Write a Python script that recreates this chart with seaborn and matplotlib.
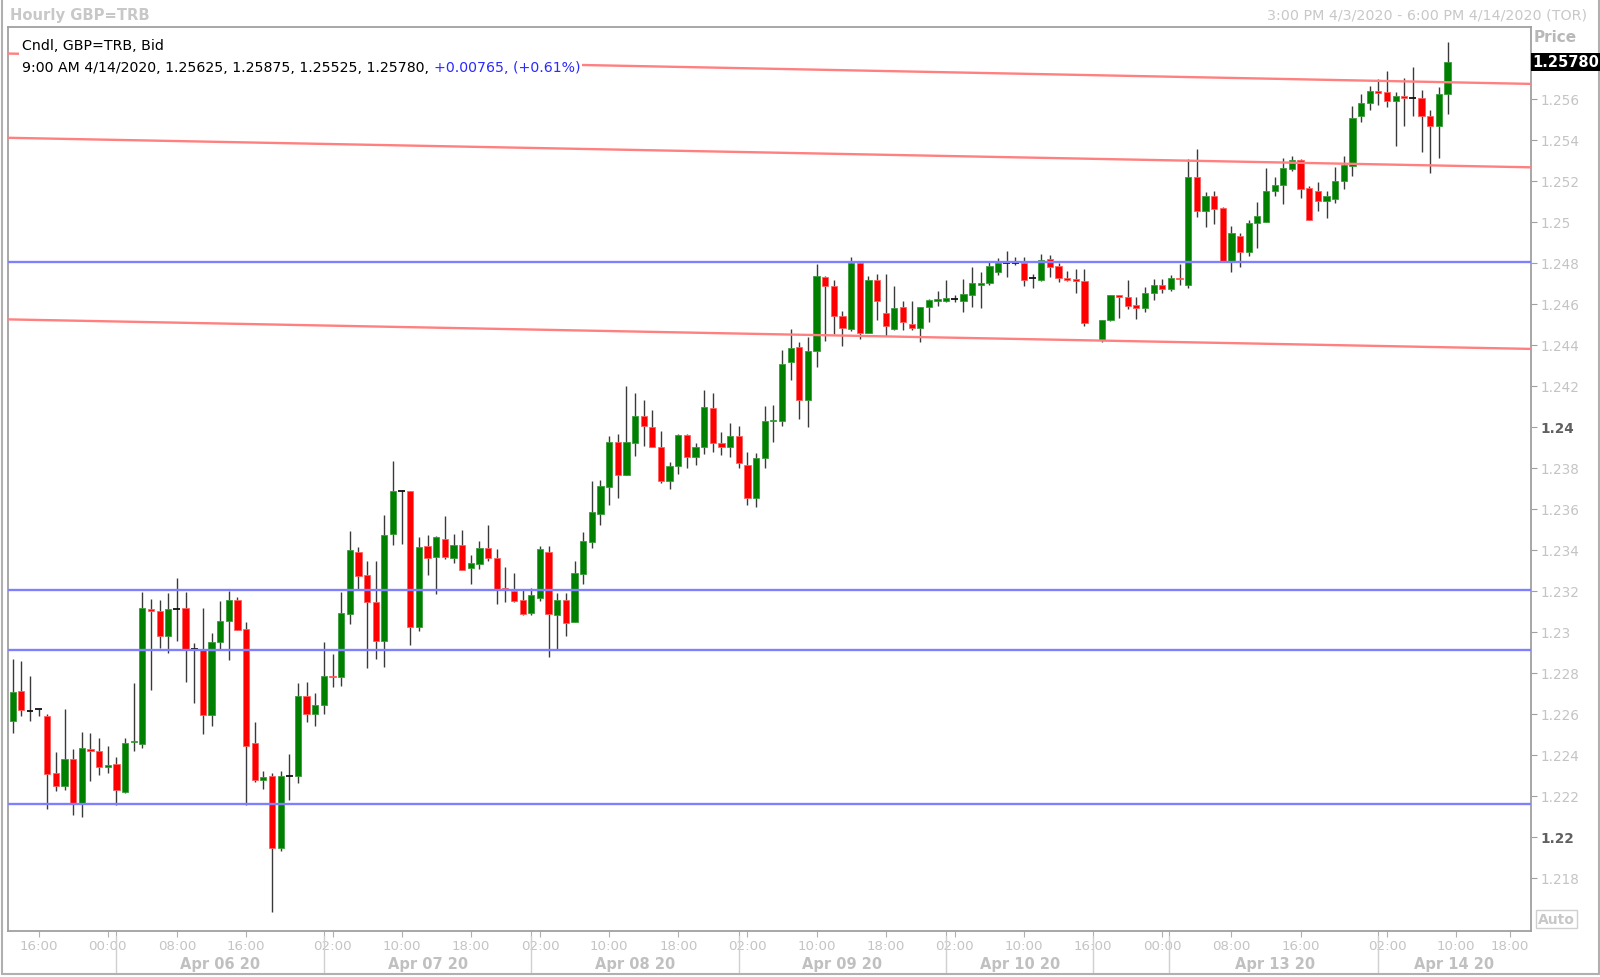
import numpy as np
import pandas as pd
import matplotlib
matplotlib.use("Agg")
import matplotlib.pyplot as plt
import matplotlib.transforms as mtrans
from matplotlib.patches import Rectangle
from matplotlib.lines import Line2D
import seaborn as sns

nan = np.nan

# ---------------- data (hourly candles, GBP=TRB bid) ----------------
open_ = [1.22566, 1.22709, 1.22610, 1.22620, 1.22589, 1.22311, 1.22247, 1.22379, 1.22163, 1.22428,
         1.22417, 1.22340, 1.22352, 1.22218, 1.22460, 1.22451, 1.23111, 1.23099, 1.22976, 1.23112,
         1.23117, 1.22917, 1.22917, 1.22591, 1.22950, 1.23051, 1.23155, 1.23012, 1.22454, 1.22278,
         1.22294, 1.21946, 1.22294, 1.22294, 1.22687, 1.22600, 1.22640, 1.22784, 1.22776, 1.23088,
         1.23387, 1.23277, 1.23146, 1.22953, 1.23477, 1.23685, 1.23685, 1.23023, 1.23415, 1.23366,
         1.23452, 1.23361, 1.23423, 1.23311, 1.23329, 1.23407, 1.23360, 1.23212, 1.23196, 1.23154,
         1.23089, 1.23164, 1.23387, 1.23083, 1.23154, 1.23045, 1.23281, 1.23439, 1.23574, 1.23704,
         1.23927, 1.23764, 1.23922, 1.24052, 1.23996, 1.23899, 1.23736, 1.23806, 1.23959, 1.23853,
         1.23899, 1.24089, 1.23920, 1.23899, 1.23952, 1.23814, 1.23653, 1.23845, 1.24025, 1.24027,
         1.24313, 1.24390, 1.24131, 1.24370, 1.24728, 1.24687, 1.24538, 1.24476, 1.24796, 1.24459,
         1.24715, 1.24554, 1.24476, 1.24585, 1.24500, 1.24481, 1.24582, 1.24612, 1.24615, 1.24621,
         1.24615, 1.24642, 1.24691, 1.24699, 1.24753, 1.24797, 1.24799, 1.24797, 1.24724, 1.24717,
         1.24818, 1.24782, 1.24725, 1.24720, 1.24711, nan, 1.24423, 1.24520, 1.24642, 1.24634,
         1.24594, 1.24580, 1.24650, 1.24690, 1.24672, 1.24725, 1.24692, 1.25216, 1.25053, 1.25123,
         1.25065, 1.24810, 1.24928, 1.24850, 1.24993, 1.24996, 1.25151, 1.25180, 1.25257, 1.25301,
         1.25162, 1.25151, 1.25102, 1.25110, 1.25200, 1.25273, 1.25514, 1.25577, 1.25636, 1.25631,
         1.25590, 1.25611, 1.25602, 1.25602, 1.25514, 1.25468, 1.25625]
high = [1.22864, 1.22854, 1.22782, 1.22623, 1.22597, 1.22412, 1.22621, 1.22426, 1.22509, 1.22504,
        1.22480, 1.22444, 1.22387, 1.22480, 1.22747, 1.23192, 1.23160, 1.23155, 1.23189, 1.23260,
        1.23195, 1.22945, 1.23114, 1.22994, 1.23147, 1.23200, 1.23168, 1.23049, 1.22558, 1.22320,
        1.22310, 1.22320, 1.22403, 1.22748, 1.22752, 1.22700, 1.22948, 1.22891, 1.23195, 1.23491,
        1.23412, 1.23345, 1.23342, 1.23569, 1.23833, 1.23693, 1.23685, 1.23462, 1.23472, 1.23465,
        1.23564, 1.23475, 1.23496, 1.23374, 1.23444, 1.23520, 1.23403, 1.23316, 1.23286, 1.23208,
        1.23211, 1.23419, 1.23419, 1.23187, 1.23187, 1.23344, 1.23484, 1.23735, 1.23740, 1.23953,
        1.23964, 1.24196, 1.24164, 1.24130, 1.24079, 1.23979, 1.23826, 1.23964, 1.23964, 1.23920,
        1.24180, 1.24164, 1.23975, 1.24016, 1.24004, 1.23874, 1.23871, 1.24099, 1.24107, 1.24373,
        1.24476, 1.24411, 1.24435, 1.24793, 1.24736, 1.24715, 1.24564, 1.24825, 1.24809, 1.24736,
        1.24744, 1.24744, 1.24684, 1.24611, 1.24614, 1.24582, 1.24623, 1.24660, 1.24716, 1.24642,
        1.24720, 1.24777, 1.24753, 1.24802, 1.24823, 1.24859, 1.24826, 1.24826, 1.24745, 1.24842,
        1.24839, 1.24799, 1.24758, 1.24769, 1.24769, nan, 1.24520, 1.24642, 1.24642, 1.24716,
        1.24631, 1.24680, 1.24720, 1.24720, 1.24740, 1.24793, 1.25305, 1.25354, 1.25143, 1.25148,
        1.25070, 1.24977, 1.24943, 1.25008, 1.25094, 1.25260, 1.25219, 1.25309, 1.25318, 1.25305,
        1.25175, 1.25192, 1.25150, 1.25265, 1.25322, 1.25566, 1.25623, 1.25663, 1.25696, 1.25737,
        1.25634, 1.25699, 1.25753, 1.25644, 1.25545, 1.25655, 1.25875]
low = [1.22506, 1.22586, 1.22563, 1.22586, 1.22135, 1.22223, 1.22228, 1.22103, 1.22095, 1.22273,
       1.22298, 1.22308, 1.22155, 1.22213, 1.22418, 1.22433, 1.22716, 1.22919, 1.22893, 1.22956,
       1.22756, 1.22649, 1.22498, 1.22539, 1.22913, 1.22859, 1.23008, 1.22155, 1.22264, 1.22230,
       1.21632, 1.21930, 1.22180, 1.22260, 1.22560, 1.22540, 1.22600, 1.22729, 1.22733, 1.23036,
       1.23205, 1.22821, 1.22868, 1.22826, 1.23420, 1.23426, 1.22935, 1.23003, 1.23278, 1.23182,
       1.23356, 1.23333, 1.23301, 1.23231, 1.23306, 1.23342, 1.23133, 1.23143, 1.23143, 1.23081,
       1.23083, 1.23151, 1.22874, 1.22910, 1.22980, 1.23045, 1.23232, 1.23406, 1.23522, 1.23619,
       1.23652, 1.23764, 1.23855, 1.23907, 1.23899, 1.23727, 1.23694, 1.23767, 1.23796, 1.23814,
       1.23866, 1.23876, 1.23861, 1.23853, 1.23796, 1.23617, 1.23606, 1.23796, 1.23926, 1.24004,
       1.24227, 1.24037, 1.23996, 1.24289, 1.24419, 1.24451, 1.24394, 1.24468, 1.24427, 1.24459,
       1.24521, 1.24443, 1.24471, 1.24471, 1.24471, 1.24412, 1.24509, 1.24586, 1.24607, 1.24607,
       1.24558, 1.24582, 1.24579, 1.24693, 1.24742, 1.24729, 1.24786, 1.24688, 1.24677, 1.24712,
       1.24732, 1.24707, 1.24709, 1.24652, 1.24493, nan, 1.24412, 1.24514, 1.24530, 1.24574,
       1.24525, 1.24560, 1.24620, 1.24650, 1.24660, 1.24690, 1.24677, 1.25021, 1.24972, 1.24988,
       1.24810, 1.24753, 1.24777, 1.24831, 1.24870, 1.24996, 1.25123, 1.25086, 1.25249, 1.25114,
       1.25008, 1.25053, 1.25020, 1.25090, 1.25159, 1.25224, 1.25484, 1.25545, 1.25571, 1.25558,
       1.25367, 1.25465, 1.25517, 1.25338, 1.25237, 1.25309, 1.25525]
close = [1.22704, 1.22615, 1.22610, 1.22620, 1.22303, 1.22247, 1.22379, 1.22163, 1.22434, 1.22415,
         1.22340, 1.22347, 1.22225, 1.22457, 1.22467, 1.23117, 1.23098, 1.22976, 1.23112, 1.23112,
         1.22914, 1.22917, 1.22591, 1.22950, 1.23052, 1.23155, 1.23008, 1.22443, 1.22278, 1.22290,
         1.21946, 1.22294, 1.22294, 1.22687, 1.22600, 1.22640, 1.22782, 1.22776, 1.23091, 1.23397,
         1.23273, 1.23143, 1.22953, 1.23470, 1.23685, 1.23685, 1.23023, 1.23412, 1.23361, 1.23460,
         1.23366, 1.23423, 1.23301, 1.23335, 1.23407, 1.23358, 1.23207, 1.23205, 1.23151, 1.23086,
         1.23177, 1.23405, 1.23086, 1.23154, 1.23040, 1.23284, 1.23442, 1.23582, 1.23709, 1.23927,
         1.23764, 1.23927, 1.24052, 1.24001, 1.23899, 1.23736, 1.23809, 1.23959, 1.23853, 1.23902,
         1.24097, 1.23920, 1.23899, 1.23952, 1.23820, 1.23653, 1.23847, 1.24027, 1.24032, 1.24305,
         1.24385, 1.24131, 1.24367, 1.24733, 1.24684, 1.24541, 1.24479, 1.24796, 1.24459, 1.24715,
         1.24614, 1.24489, 1.24580, 1.24508, 1.24479, 1.24582, 1.24620, 1.24623, 1.24628, 1.24621,
         1.24647, 1.24701, 1.24701, 1.24782, 1.24797, 1.24797, 1.24799, 1.24717, 1.24724, 1.24813,
         1.24777, 1.24725, 1.24716, 1.24709, 1.24504, nan, 1.24520, 1.24642, 1.24631, 1.24587,
         1.24579, 1.24650, 1.24690, 1.24670, 1.24725, 1.24720, 1.25216, 1.25053, 1.25123, 1.25062,
         1.24810, 1.24943, 1.24850, 1.24993, 1.25026, 1.25151, 1.25180, 1.25260, 1.25301, 1.25159,
         1.25010, 1.25102, 1.25125, 1.25200, 1.25276, 1.25504, 1.25579, 1.25636, 1.25628, 1.25590,
         1.25611, 1.25602, 1.25602, 1.25514, 1.25468, 1.25623, 1.25780]

support_levels = [1.24801, 1.23204, 1.22910, 1.22157]          # blue horizontal lines
channel_start = [1.25820, 1.25409, 1.24523]                     # red sloping lines, left edge
channel_end = [1.25672, 1.25265, 1.24379]                       # red sloping lines, right edge

time_labels = ["16:00", "00:00", "08:00", "16:00", "02:00", "10:00", "18:00", "02:00", "10:00",
               "18:00", "02:00", "10:00", "18:00", "02:00", "10:00", "16:00", "00:00", "08:00",
               "16:00", "02:00", "10:00", "18:00"]
time_slots = [3, 11, 19, 27, 37, 45, 53, 61, 69, 77, 85, 93, 101, 109, 117, 125, 133, 141, 149,
              159, 167, 173.2]
day_labels = ["Apr 06 20", "Apr 07 20", "Apr 08 20", "Apr 09 20", "Apr 10 20", "Apr 13 20", "Apr 14 20"]
day_label_slots = [24, 48, 72, 96, 116.6, 146, 166.8]
day_breaks = [12.0, 36.0, 60.0, 84.0, 108.0, 125.0, 133.8, 157.9]
price_ticks = [round(1.218 + 0.002 * k, 3) for k in range(20)]

chg, chg_pct = 0.00765, 0.61
last_time = "9:00 AM 4/14/2020"

# ---------------- figure ----------------
sns.set_theme(style="white")
plt.rcParams['font.family'] = ['DejaVu Sans']

W, H = 1600, 978
fig = plt.figure(figsize=(16, 9.78), dpi=100)
fig.patch.set_facecolor("white")


def fx(x):
    return x / W


def fy(y):
    return 1 - y / H


L, R, T, B = 8.3, 1530.5, 27.5, 932
ax = fig.add_axes([fx(L), fy(B), (R - L) / W, (B - T) / H])
ax.set_facecolor("white")
XMIN, XMAX = -0.51, 175.6
YMIN, YMAX = 1.21539, 1.25952
ax.set_xlim(XMIN, XMAX)
ax.set_ylim(YMIN, YMAX)

df = pd.DataFrame({"o": open_, "h": high, "l": low, "c": close})
df["slot"] = np.arange(len(df))
df = df.dropna()
up = df.c > df.o + 4e-5
dn = df.c < df.o - 4e-5
flat = ~(up | dn)

ax.vlines(df.slot, df.l, df.h, color="#3a3a3a", lw=1.0, zorder=3)
ax.bar(df.slot[up], (df.c - df.o)[up], bottom=df.o[up], width=0.72,
       color="#008000", edgecolor="#3c9c3c", lw=0.6, zorder=4)
ax.bar(df.slot[dn], (df.o - df.c)[dn], bottom=df.c[dn], width=0.72,
       color="#ff0000", edgecolor="#ff6060", lw=0.6, zorder=4)
ax.hlines(df.c[flat], df.slot[flat] - 0.4, df.slot[flat] + 0.4, color="#111111", lw=1.3, zorder=4)

for lvl in support_levels:
    sns.lineplot(x=[XMIN, XMAX], y=[lvl, lvl], ax=ax, color="#8080ff", lw=1.7, zorder=5)
for p0, p1 in zip(channel_start, channel_end):
    sns.lineplot(x=[XMIN, XMAX], y=[p0, p1], ax=ax, color="#ff8080", lw=1.7, zorder=5)

# frame
for sp in ax.spines.values():
    sp.set_visible(True)
    sp.set_color("#a0a0a0")
    sp.set_linewidth(1.3)
ax.grid(False)

# y axis on right
ax.yaxis.tick_right()
ax.set_yticks(price_ticks)
ylabs = [("%.3f" % v).rstrip("0") for v in price_ticks]
ax.set_yticklabels(ylabs)
ax.tick_params(axis="y", which="both", right=True, left=False, direction="out", length=4,
               width=0.8, color="#a0a0a0", pad=3, labelsize=9.8, labelcolor="#c4c4c4")
for lab, v in zip(ax.get_yticklabels(), price_ticks):
    if abs(v - 1.24) < 1e-6 or abs(v - 1.22) < 1e-6:
        lab.set_fontweight("bold")
        lab.set_color("#606060")

# x axis
ax.set_xticks(time_slots)
ax.set_xticklabels(time_labels)
ax.set_xticks(day_breaks, minor=True)
ax.tick_params(axis="x", which="both", bottom=True, top=False, direction="out", length=4,
               width=0.8, color="#b0b0b0", pad=1.5, labelsize=9.6, labelcolor="#c4c4c4")
ax.set_xlabel("")
ax.set_ylabel("")

blend = mtrans.blended_transform_factory(ax.transData, ax.transAxes)
ax_h = B - T
for xb in day_breaks:
    ax.add_line(Line2D([xb, xb], [(B - 937) / ax_h, (B - 975) / ax_h], transform=blend,
                       color="#d0d0d0", lw=1.0, clip_on=False))
for xl, t in zip(day_label_slots, day_labels):
    ax.text(xl, (B - 965) / ax_h, t, transform=blend, ha="center", va="center",
            fontsize=10.5, fontweight="bold", color="#c0c0c0", clip_on=False)

# header box inside plot
ax.add_patch(Rectangle((fx(19), fy(78)), (582 - 19) / W, (78 - 33) / H, transform=fig.transFigure,
                       facecolor="white", edgecolor="none", zorder=6, clip_on=False))
fig.text(fx(22.5), fy(46), "Cndl, GBP=TRB, Bid", fontsize=10.2, color="black", va="center", zorder=7)
o_l, h_l, l_l, c_l = open_[-1], high[-1], low[-1], close[-1]
part1 = f"{last_time}, {o_l:.5f}, {h_l:.5f}, {l_l:.5f}, {c_l:.5f},"
t1 = fig.text(fx(22.5), fy(67.5), part1, fontsize=10.2, color="black", va="center", zorder=7)
fig.canvas.draw()
bb = t1.get_window_extent(renderer=fig.canvas.get_renderer())
fig.text((bb.x1 + 4.5) / W, fy(67.5), f"+{chg:.5f}, (+{chg_pct:.2f}%)", fontsize=10.2,
         color="#2b2bff", va="center", zorder=7)

# title row
fig.text(fx(10), fy(15.5), "Hourly GBP=TRB", fontsize=10.6, fontweight="bold", color="#c8c8c8",
         va="center")
fig.text(fx(1587), fy(15.5), "3:00 PM 4/3/2020 - 6:00 PM 4/14/2020 (TOR)", fontsize=10.3,
         color="#c8c8c8", va="center", ha="right")

# right column labels
fig.text(fx(1555), fy(38), "Price", fontsize=11, fontweight="bold", color="#b8b8b8",
         va="center", ha="center")
y_last = B - (c_l - YMIN) / (YMAX - YMIN) * ax_h
fig.patches.append(Rectangle((fx(1531), fy(y_last + 9)), (1600 - 1531) / W, 18 / H,
                             transform=fig.transFigure, facecolor="black", edgecolor="none",
                             zorder=5))
fig.text(fx(1566), fy(y_last), f"{c_l:.5f}", fontsize=10.5, fontweight="bold", color="white",
         va="center", ha="center", zorder=6)
fig.patches.append(Rectangle((fx(1536), fy(929)), 41 / W, 18 / H, transform=fig.transFigure,
                             facecolor="white", edgecolor="#d0d0d0", lw=1.0, zorder=5))
fig.text(fx(1556.5), fy(920), "Auto", fontsize=10, fontweight="bold", color="#c8c8c8",
         va="center", ha="center", zorder=6)

# outer border
for xs, ys in [([1.5, 1.5], [0, 975]), ([1.5, 1598.5], [975, 975]), ([1598.5, 1598.5], [0, 975])]:
    fig.lines.append(Line2D([fx(x) for x in xs], [fy(y) for y in ys], transform=fig.transFigure,
                            color="#b0b0b0", lw=1.5))

fig.savefig("out.png", dpi=100, facecolor="white")
